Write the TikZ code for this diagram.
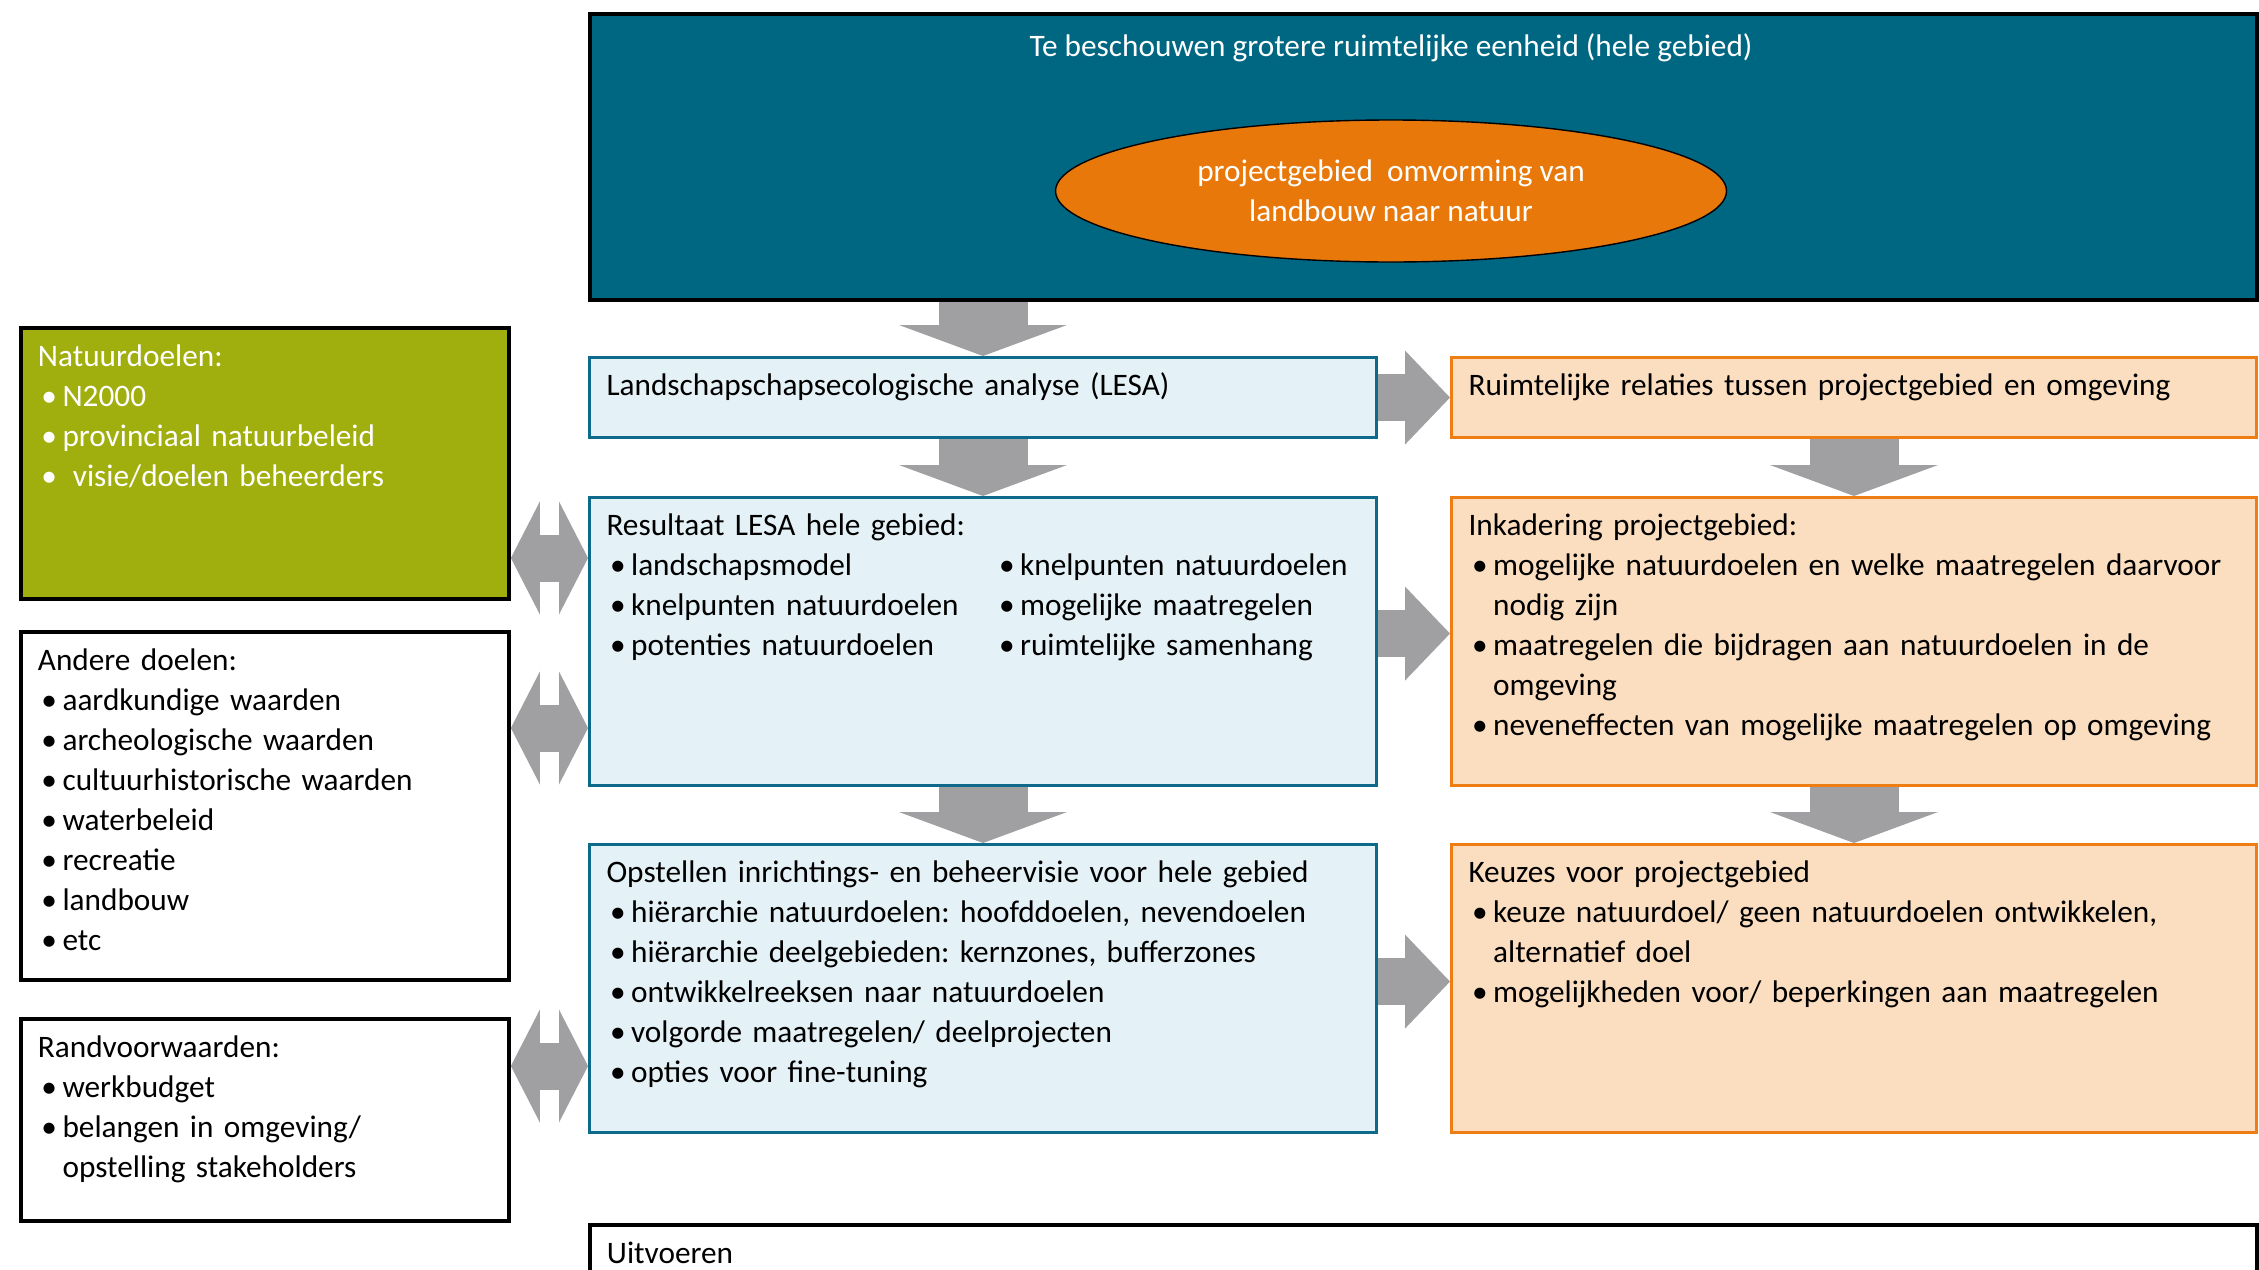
\documentclass[tikz,border=0pt]{standalone}
\usepackage{xcolor}
\usepackage{fontspec}
\setmainfont{Carlito}
\usepackage{tikz}
\usetikzlibrary{arrows.meta, positioning, shapes}
\definecolor{rotblue}{RGB}{0, 103, 131}
\definecolor{rotorange}{RGB}{233, 120, 11}
\definecolor{rotolive}{RGB}{160, 174, 14}
\definecolor{lesafill}{RGB}{228, 241, 246}
\definecolor{lesaline}{RGB}{14, 106, 138}
\definecolor{projfill}{RGB}{251, 222, 192}
\definecolor{projline}{RGB}{238, 125, 20}
\definecolor{pijlgrey}{RGB}{160, 160, 162}

\newcommand{\bul}[1]{\par\hangindent=7pt\hangafter=1\noindent\makebox[7pt][l]{\hspace{1pt}\textbullet}#1}
\frenchspacing

\begin{document}
\begin{tikzpicture}[x=0.1mm, y=-0.1mm,
  font=\fontsize{8.9}{11.4}\selectfont,
  kader/.style={draw, anchor=north west, align=left, inner xsep=1.7mm, inner ysep=1mm, text height=8pt},
  lesabox/.style={kader, draw=lesaline, fill=lesafill, line width=0.85pt},
  projbox/.style={kader, draw=projline, fill=projfill, line width=0.85pt},
  doelbox/.style={kader, draw=black, fill=white, line width=1.1pt},
  downpijl/.style={draw=pijlgrey, line width=8.9mm, -{Triangle[width=16.8mm, length=3.1mm, line width=0pt]}},
  rechtspijl/.style={draw=pijlgrey, line width=4.7mm, -{Triangle[width=9.4mm, length=4.5mm, line width=0pt]}},
  dubbelpijl/.style={draw=pijlgrey, line width=4.7mm, {Triangle[width=11.3mm, length=2.9mm, line width=0pt]}-{Triangle[width=11.3mm, length=2.9mm, line width=0pt]}}]
\useasboundingbox (0,0) rectangle (2259,1269);

% hele gebied
\node[draw=black, fill=rotblue, line width=1.2pt, anchor=north west, minimum width=166.7mm, minimum height=28.6mm, inner sep=0pt] (gebied) at (588,12) {};
\node[text=white] (titel) at (1391,48) {Te beschouwen grotere ruimtelijke eenheid (hele gebied)};
\node[ellipse, draw=black, fill=rotorange, text=white, align=center, minimum width=67.1mm, minimum height=14.2mm] (project) at (1391,191) {projectgebied\ \ omvorming van\\landbouw naar natuur};

% linker kolom
\node[doelbox, fill=rotolive, text=white, text width=45.4mm, text depth=22.3mm] (natuur) at (19,326) {Natuurdoelen:
\bul{N2000}
\bul{provinciaal natuurbeleid}
\bul{\ visie/doelen beheerders}\par};
\node[doelbox, text width=45.4mm, text depth=30mm] (andere) at (19,630) {Andere doelen:
\bul{aardkundige waarden}
\bul{archeologische waarden}
\bul{cultuurhistorische waarden}
\bul{waterbeleid}
\bul{recreatie}
\bul{landbouw}
\bul{etc}\par};
\node[doelbox, text width=45.4mm, text depth=15.4mm] (rand) at (19,1017) {Randvoorwaarden:
\bul{werkbudget}
\bul{belangen in omgeving/\newline opstelling stakeholders}\par};

% middelste kolom
\node[lesabox, text width=75.3mm, text depth=3.2mm] (lesa) at (588,356) {Landschapschapsecologische analyse (LESA)};
\node[lesabox, text width=75.3mm, text depth=24mm] (resultaat) at (588,496) {Resultaat LESA hele gebied:\par
\noindent\begin{minipage}[t]{38.9mm}
\bul{landschapsmodel}
\bul{knelpunten natuurdoelen}
\bul{potenties natuurdoelen}
\end{minipage}%
\begin{minipage}[t]{36mm}
\bul{knelpunten natuurdoelen}
\bul{mogelijke maatregelen}
\bul{ruimtelijke samenhang}
\end{minipage}};
\node[lesabox, text width=75.3mm, text depth=24mm] (opstellen) at (588,843) {Opstellen inrichtings- en beheervisie voor hele gebied
\bul{hiërarchie natuurdoelen: hoofddoelen, nevendoelen}
\bul{hiërarchie deelgebieden: kernzones, bufferzones}
\bul{ontwikkelreeksen naar natuurdoelen}
\bul{volgorde maatregelen/ deelprojecten}
\bul{opties voor fine-tuning}\par};

% rechter kolom
\node[projbox, text width=77.1mm, text depth=3.2mm] (ruimte) at (1450,356) {Ruimtelijke relaties tussen projectgebied en omgeving};
\node[projbox, text width=77.1mm, text depth=24mm] (inkadering) at (1450,496) {Inkadering projectgebied:
\bul{mogelijke natuurdoelen en welke maatregelen daarvoor\newline nodig zijn}
\bul{maatregelen die bijdragen aan natuurdoelen in de\newline omgeving}
\bul{neveneffecten van mogelijke maatregelen op omgeving}\par};
\node[projbox, text width=77.1mm, text depth=24mm] (keuzes) at (1450,843) {Keuzes voor projectgebied
\bul{keuze natuurdoel/ geen natuurdoelen ontwikkelen,\newline alternatief doel}
\bul{mogelijkheden voor/ beperkingen aan maatregelen}\par};

% uitvoeren
\node[doelbox, text width=163.3mm, text depth=3.2mm] (uitvoeren) at (588,1223) {Uitvoeren};

% pijlen
\draw[downpijl] (gebied.south -| lesa.north) -- (lesa.north);
\draw[downpijl] (lesa.south) -- (resultaat.north);
\draw[downpijl] (resultaat.south) -- (opstellen.north);
\draw[downpijl] (ruimte.south) -- (inkadering.north);
\draw[downpijl] (inkadering.south) -- (keuzes.north);
\draw[rechtspijl] (lesa.east) -- (ruimte.west);
\draw[rechtspijl] ([yshift=0.8mm]resultaat.east) -- ([yshift=0.8mm]inkadering.west);
\draw[rechtspijl] ([yshift=0.7mm]opstellen.east) -- ([yshift=0.7mm]keuzes.west);
\coordinate (d1) at (0,558);
\coordinate (d2) at (0,728);
\coordinate (d3) at (0,1066);
\draw[dubbelpijl] (natuur.east |- d1) -- (resultaat.west |- d1);
\draw[dubbelpijl] (andere.east |- d2) -- (resultaat.west |- d2);
\draw[dubbelpijl] (rand.east |- d3) -- (opstellen.west |- d3);
\end{tikzpicture}
\end{document}
